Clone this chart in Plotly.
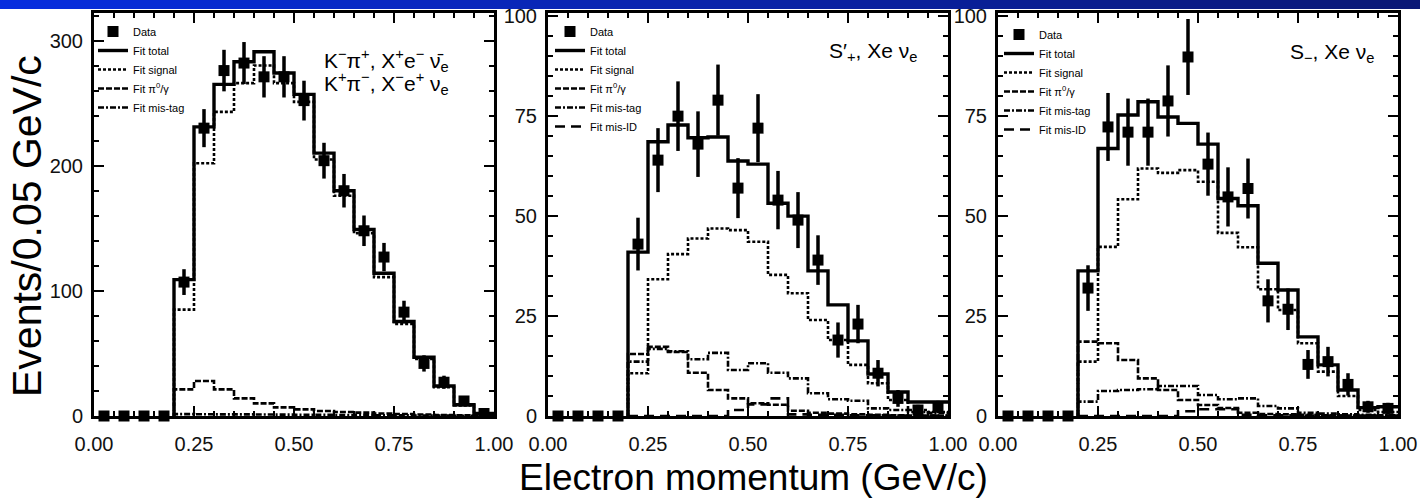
import plotly.graph_objects as go

W, H = 1420, 499

# ---- binning -------------------------------------------------------------
bin_centers = [0.025, 0.075, 0.125, 0.175, 0.225, 0.275, 0.325, 0.375, 0.425, 0.475,
               0.525, 0.575, 0.625, 0.675, 0.725, 0.775, 0.825, 0.875, 0.925, 0.975]
fit_edges = [0.20, 0.25, 0.30, 0.35, 0.40, 0.45, 0.50, 0.55, 0.60,
             0.65, 0.70, 0.75, 0.80, 0.85, 0.90, 0.95, 1.00]

# ---- K-pi+, X+e-nubar / K+pi-, X-e+nu -------------------------------------
kpi_data = [0, 0, 0, 0, 107, 230, 276, 282, 271, 271, 252, 204, 180, 148, 127, 83, 42, 27, 12, 2]
kpi_err = [1.8, 1.8, 1.8, 1.8, 10.3, 15.2, 16.6, 16.8, 16.5, 16.5, 15.9, 14.3, 13.4, 12.2,
           11.3, 9.1, 6.5, 5.2, 3.5, 1.4]
kpi_total = [109, 231, 265, 283, 291, 274, 257, 210, 180, 149, 114, 75.5, 47, 24, 9, 2]
kpi_signal = [85, 202, 243, 266, 280, 266, 251, 205, 176, 146, 111, 73.5, 45.5, 23, 8.5, 1.7]
kpi_pi0 = [21.3, 28, 21.3, 14.1, 10.1, 6.9, 5.3, 4, 3.2, 2.7, 2, 1.6, 1.2, 0.8, 0.5, 0.3]
kpi_mistag = [1.5, 1.4, 1.3, 1.3, 1.2, 1.1, 1, 0.9, 0.8, 0.7, 0.6, 0.5, 0.4, 0.3, 0.2, 0.1]

# ---- S'+, Xe nu ------------------------------------------------------------
sp_data = [0, 0, 0, 0, 43, 64, 75, 68, 79, 57, 72, 54, 49, 39, 19, 23, 10.7, 4.4, 1.5, 2.3]
sp_err = [1.2, 1.2, 1.2, 1.2, 6.6, 8, 8.7, 8.2, 8.9, 7.5, 8.5, 7.3, 7, 6.2, 4.4, 4.8, 3.3,
          2.1, 1.3, 1.5]
sp_total = [41, 68.6, 72.8, 69.6, 69.8, 63.8, 63, 53.2, 50, 36.3, 27.8, 18.8, 10.5, 6, 3.5, 3.5]
sp_signal = [10.7, 34.2, 40.5, 44.4, 46.9, 46.5, 43.6, 35.3, 30.7, 24, 19, 12.8, 8.2, 4, 1.5, 1]
sp_pi0 = [15.5, 17.3, 16, 10.8, 6.5, 4.4, 3.2, 2.8, 1.3, 0.8, 0.6, 0.4, 0.3, 0.2, 0.1, 0.1]
sp_mistag = [13.6, 16.8, 16.2, 14.2, 15.8, 11.5, 13.2, 10.8, 9.4, 5.7, 4.2, 3.8, 1.9, 1.5, 1, 0.8]
sp_misid = [0, 0, 0, 0, 0, 1.5, 2.9, 4.4, 0.4, 0.3, 0.3, 0.2, 0.2, 0.1, 0.1, 0.1]

# ---- S-, Xe nu ---------------------------------------------------------------
sm_data = [0, 0, 0, 0, 32, 72.3, 71, 71, 78.8, 89.8, 63, 54.8, 56.9, 28.8, 26.7, 12.9, 13.6,
           7.9, 2.3, 1.9]
sm_err = [1.2, 1.2, 1.2, 1.2, 5.7, 8.5, 8.4, 8.4, 8.9, 9.5, 7.9, 7.4, 7.5, 5.4, 5.2, 3.6, 3.7,
          2.8, 1.5, 1.4]
sm_total = [36.3, 66.9, 75.3, 78.6, 74.8, 73.2, 68, 54.4, 52.6, 38.2, 31.5, 19.8, 12.8, 6.5,
            2.1, 2.3]
sm_signal = [13.6, 42.3, 54.2, 61.9, 60.8, 61.5, 58.6, 45.8, 42.2, 31.7, 26.5, 18.2, 11.1, 5,
             1.5, 1]
sm_pi0 = [18.6, 18.2, 14, 9.4, 6.5, 4, 2.75, 2, 0.8, 0.5, 0.4, 0.3, 0.2, 0.1, 0.1, 0.1]
sm_mistag = [3.6, 6.25, 6.5, 6.7, 7.5, 7.5, 5.25, 4.2, 4.4, 2.5, 1.9, 0.8, 0.6, 0.4, 0.3, 0.2]
sm_misid = [0, 0, 0, 0, 0, 1.2, 1.7, 1.7, 0.3, 0.2, 0.2, 0.1, 0.1, 0.1, 0.1, 0.1]

x_ticks = [0.0, 0.25, 0.5, 0.75, 1.0]
x_ticktext = ["0.00", "0.25", "0.50", "0.75", "1.00"]

FONT = "Liberation Sans, Arial, Helvetica, sans-serif"

fit_styles = {
    "total": dict(width=3.4, dash="solid"),
    "signal": dict(width=2.6, dash="3px,2px"),
    "pi0": dict(width=2.6, dash="6px,2px"),
    "mistag": dict(width=2.6, dash="6px,2px,2px,2px"),
    "misid": dict(width=2.6, dash="10px,6px"),
}
fit_names = {
    "total": "Fit total",
    "signal": "Fit signal",
    "pi0": "Fit π<sup>0</sup>/γ",
    "mistag": "Fit mis-tag",
    "misid": "Fit mis-ID",
}

panels = [
    dict(data=kpi_data, err=kpi_err,
         fits=[("total", kpi_total), ("signal", kpi_signal), ("pi0", kpi_pi0),
               ("mistag", kpi_mistag)],
         yrange=[0, 322], ydtick=100, yminor=20, legend="legend"),
    dict(data=sp_data, err=sp_err,
         fits=[("total", sp_total), ("signal", sp_signal), ("pi0", sp_pi0),
               ("mistag", sp_mistag), ("misid", sp_misid)],
         yrange=[0, 100.8], ydtick=25, yminor=5, legend="legend2"),
    dict(data=sm_data, err=sm_err,
         fits=[("total", sm_total), ("signal", sm_signal), ("pi0", sm_pi0),
               ("mistag", sm_mistag), ("misid", sm_misid)],
         yrange=[0, 100.8], ydtick=25, yminor=5, legend="legend3"),
]

# plot-area pixel boxes for the three panels
x_boxes = [(94, 494), (548, 948), (998, 1398)]
y_box = (13, 416)


def step_xy(vals):
    xs = [fit_edges[0]] + fit_edges[:-1] + [fit_edges[-1]]
    ys = [0] + list(vals) + [vals[-1]]
    return xs, ys


fig = go.Figure()

for i, p in enumerate(panels):
    sfx = "" if i == 0 else str(i + 1)
    xa, ya = "x" + sfx, "y" + sfx
    for rank, (key, vals) in enumerate(p["fits"], start=2):
        xs, ys = step_xy(vals)
        fig.add_trace(go.Scatter(
            x=xs, y=ys, mode="lines", line_shape="hv",
            line=dict(color="black", **fit_styles[key]),
            name=fit_names[key], legend=p["legend"], legendrank=rank,
            xaxis=xa, yaxis=ya, hoverinfo="skip"))
    fig.add_trace(go.Scatter(
        x=bin_centers, y=p["data"], mode="markers",
        marker=dict(symbol="square", size=11, color="black"),
        error_y=dict(type="data", array=p["err"], color="black", thickness=3.5, width=0),
        name="Data", legend=p["legend"], legendrank=1, cliponaxis=False,
        xaxis=xa, yaxis=ya))

axis_common = dict(
    showline=True, linecolor="black", linewidth=3, mirror="ticks",
    ticks="inside", ticklen=10, tickwidth=1.5, tickcolor="black",
    showgrid=False, zeroline=False, automargin=False,
    tickfont=dict(family=FONT, size=20, color="#111"),
)

layout = dict(
    width=W, height=H,
    margin=dict(l=0, r=0, t=0, b=0, autoexpand=False),
    paper_bgcolor="white", plot_bgcolor="white",
    showlegend=True,
    font=dict(family=FONT, color="black"),
)

for i, p in enumerate(panels):
    sfx = "" if i == 0 else str(i + 1)
    x0, x1 = x_boxes[i]
    layout["xaxis" + sfx] = dict(
        axis_common, domain=[x0 / W, x1 / W], range=[0, 1],
        tickvals=x_ticks, ticktext=x_ticktext, ticklabelstandoff=8,
        minor=dict(ticks="inside", ticklen=5, tickwidth=1.5, tickcolor="black",
                   dtick=0.05, tick0=0),
        anchor="y" + sfx)
    layout["yaxis" + sfx] = dict(
        axis_common, domain=[1 - y_box[1] / H, 1 - y_box[0] / H], range=p["yrange"],
        dtick=p["ydtick"], tick0=0, ticklabelstandoff=4,
        minor=dict(ticks="inside", ticklen=5, tickwidth=1.5, tickcolor="black",
                   dtick=p["yminor"], tick0=0),
        anchor="x" + sfx)

legend_pos = [(93, 17), (550, 17), (999, 20)]
for i, (lx, ly) in enumerate(legend_pos):
    key = "legend" if i == 0 else "legend" + str(i + 1)
    layout[key] = dict(
        x=lx / W, y=1 - ly / H, xanchor="left", yanchor="top",
        bgcolor="rgba(0,0,0,0)", borderwidth=0, tracegroupgap=0,
        font=dict(family=FONT, size=11, color="black"))

fig.update_layout(**layout)

# panel labels
labels = [
    ("K<sup>−</sup>π<sup>+</sup>, X<sup>+</sup>e<sup>−</sup> ν̄<sub>e</sub>", 322, 60, "left"),
    ("K<sup>+</sup>π<sup>−</sup>, X<sup>−</sup>e<sup>+</sup> ν<sub>e</sub>", 322, 83, "left"),
    ("S′<sub>+</sub>, Xe ν<sub>e</sub>", 919, 52, "right"),
    ("S<sub>−</sub>, Xe ν<sub>e</sub>", 1376, 53, "right"),
]
for text, lx, ly, anchor in labels:
    fig.add_annotation(text=text, x=lx / W, y=1 - ly / H, xref="paper", yref="paper",
                       xanchor=anchor, yanchor="middle", showarrow=False,
                       font=dict(family=FONT, size=21, color="black"))

# shared axis titles
fig.add_annotation(text="Electron momentum (GeV/c)", x=754 / W, y=1 - 477 / H,
                   xref="paper", yref="paper", xanchor="center", yanchor="middle",
                   showarrow=False, font=dict(family=FONT, size=37, color="black"))
fig.add_annotation(text="Events/0.05 GeV/c", x=27 / W, y=1 - 226 / H,
                   xref="paper", yref="paper", xanchor="center", yanchor="middle",
                   textangle=-90, showarrow=False,
                   font=dict(family=FONT, size=41, color="black"))

# blue title strip across the top, shaded from bright to deep blue
n_strips = 71
c0, c1 = (8, 46, 222), (10, 24, 118)
for k in range(n_strips):
    t = k / (n_strips - 1)
    col = tuple(round(c0[j] + (c1[j] - c0[j]) * t) for j in range(3))
    fig.add_shape(type="rect", xref="paper", yref="paper",
                  x0=k / n_strips, x1=min(1.0, (k + 1) / n_strips + 0.002),
                  y0=1 - 9 / H, y1=1, line_width=0,
                  fillcolor="rgb(%d,%d,%d)" % col, layer="above")

fig.write_html(
    "out.html",
    post_script="document.body.style.margin='0';document.body.style.overflow='hidden';",
)
